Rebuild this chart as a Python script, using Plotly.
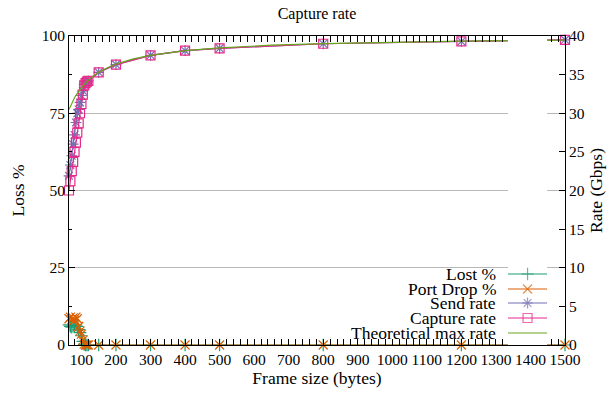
import plotly.graph_objects as go

# ---------------- data ----------------
frame_size = [64, 68, 72, 76, 80, 84, 88, 92, 96, 100, 104, 108, 112, 116, 120,
              150, 200, 300, 400, 500, 800, 1200, 1500]
lost_pct = [6.5, 6.0, 5.8, 6.2, 6.0, 6.5, 6.0, 5.0, 4.0, 3.0, 1.2, 0.2, 0.0, 0.0, 0.0,
            0.0, 0.0, 0.0, 0.0, 0.0, 0.0, 0.0, 0.0]
port_drop_pct = [8.5, 9.0, 8.2, 8.8, 8.0, 9.0, 8.5, 6.0, 4.5, 3.5, 1.5, 0.3, 0.0, 0.0, 0.0,
                 0.0, 0.0, 0.0, 0.0, 0.0, 0.0, 0.0, 0.0]
send_rate = [21.9, 23.3, 24.5, 26.0, 27.2, 28.8, 30.0, 30.5, 31.4, 32.3, 32.9, 33.7, 33.9, 34.1, 34.2,
             35.3, 36.3, 37.5, 38.1, 38.4, 39.0, 39.3, 39.5]
capture_rate = [20.0, 21.2, 22.5, 23.7, 25.0, 26.2, 27.5, 28.7, 30.0, 31.2, 32.4, 33.6, 33.9, 34.1, 34.2,
                35.3, 36.3, 37.5, 38.1, 38.4, 39.0, 39.3, 39.5]
theo_size = [64, 68, 72, 76, 80, 84, 88, 92, 96, 100, 104, 108, 112, 116, 120, 130, 150,
             175, 200, 250, 300, 400, 500, 650, 800, 1000, 1200, 1500]
theo_rate = [30.48, 30.91, 31.30, 31.67, 32.00, 32.31, 32.59, 32.86, 33.10, 33.33, 33.55, 33.75,
             33.94, 34.12, 34.29, 34.67, 35.29, 35.90, 36.36, 37.04, 37.50, 38.10, 38.46, 38.81,
             39.02, 39.22, 39.34, 39.47]

names = ["Lost %", "Port Drop %", "Send rate", "Capture rate", "Theoretical max rate"]
colors = ["#1b9e77", "#d95f02", "#7570b3", "#e7298a", "#66a61e"]
symbols = ["cross-thin-open", "x-thin-open", "asterisk-open", "square-open", None]
loss_ticks = [0, 25, 50, 75, 100]
rate_ticks = [0, 5, 10, 15, 20, 25, 30, 35, 40]

FONT = "Liberation Serif, Times New Roman, serif"
TICK_FS = 15.5
TEXT_FS = 17.5

fig = go.Figure()

def add_series(x, y, i, axis):
    sym = symbols[i]
    fig.add_trace(go.Scatter(
        x=x, y=y, name=names[i], yaxis=axis,
        mode="lines+markers" if sym else "lines",
        line=dict(color=colors[i], width=1.2),
        marker=dict(symbol=sym, size=9, color=colors[i],
                    line=dict(color=colors[i], width=1.2)) if sym else None,
        cliponaxis=False, showlegend=False))

add_series(frame_size, lost_pct, 0, "y")
add_series(frame_size, port_drop_pct, 1, "y")
add_series(frame_size, send_rate, 2, "y2")
add_series(frame_size, capture_rate, 3, "y2")
add_series(theo_size, theo_rate, 4, "y2")

# ---- custom key (text right, sample left) ----
key_rows = [0.2298, 0.1812, 0.1359, 0.0874, 0.0388]
for i, ry in enumerate(key_rows):
    sym = symbols[i]
    fig.add_trace(go.Scatter(
        x=[0, 0.5, 1], y=[ry, ry, ry], xaxis="x3", yaxis="y3",
        mode="lines+markers" if sym else "lines",
        line=dict(color=colors[i], width=1.2),
        marker=dict(symbol=sym, size=[0, 9, 0], color=colors[i],
                    line=dict(color=colors[i], width=1.2)) if sym else None,
        cliponaxis=False, showlegend=False, hoverinfo="skip"))
    fig.add_annotation(x=0.865, y=ry, xref="paper", yref="paper", text=names[i],
                       showarrow=False, xanchor="right", yanchor="middle",
                       font=dict(family=FONT, size=TEXT_FS, color="black"))

fig.add_shape(type="rect", xref="paper", yref="paper", x0=0.537, x1=0.998, y0=0.016, y1=0.262,
              fillcolor="white", line=dict(width=0), layer="between")

axis_common = dict(showline=True, linecolor="black", linewidth=1, ticks="inside",
                   tickcolor="black", ticklen=6, zeroline=False, automargin=False,
                   tickfont=dict(family=FONT, size=TICK_FS, color="black"))

fig.update_layout(
    width=611, height=394,
    margin=dict(l=68.5, r=46, t=36, b=49),
    paper_bgcolor="white", plot_bgcolor="white",
    title=dict(text="Capture rate", x=0.5, xref="paper", y=1 - 13 / 394, yref="container",
               yanchor="middle", font=dict(family=FONT, size=16, color="black")),
    font=dict(family=FONT, size=TEXT_FS, color="black"),
    xaxis=dict(range=[64, 1500], tick0=0, dtick=100, mirror="allticks", showgrid=False,
               title=dict(text="Frame size (bytes)", standoff=3,
                          font=dict(family=FONT, size=TEXT_FS)),
               minor=dict(dtick=20, tick0=0, ticks="inside", ticklen=3, tickcolor="black",
                          showgrid=False),
               **axis_common),
    yaxis=dict(range=[0, 100], tickvals=loss_ticks, mirror=True, showgrid=True,
               gridcolor="#b8b8b8", gridwidth=1,
               title=dict(text="Loss %", standoff=12, font=dict(family=FONT, size=TEXT_FS)),
               minor=dict(dtick=12.5, tick0=0, ticks="inside", ticklen=3, tickcolor="black",
                          showgrid=False),
               **axis_common),
    yaxis2=dict(range=[0, 40], tickvals=rate_ticks, overlaying="y", side="right",
                showgrid=False,
                title=dict(text="Rate (Gbps)", standoff=5, font=dict(family=FONT, size=TEXT_FS)),
                **axis_common),
    xaxis3=dict(domain=[0.885, 0.964], range=[0, 1], visible=False, anchor="y3"),
    yaxis3=dict(domain=[0, 1], range=[0, 1], visible=False, anchor="x3", overlaying="y"),
)

# remove the default 8px page margin so the figure sits at the window origin
fig.write_html("out.html", config={"displayModeBar": False},
               post_script="document.body.style.margin='0px';")
